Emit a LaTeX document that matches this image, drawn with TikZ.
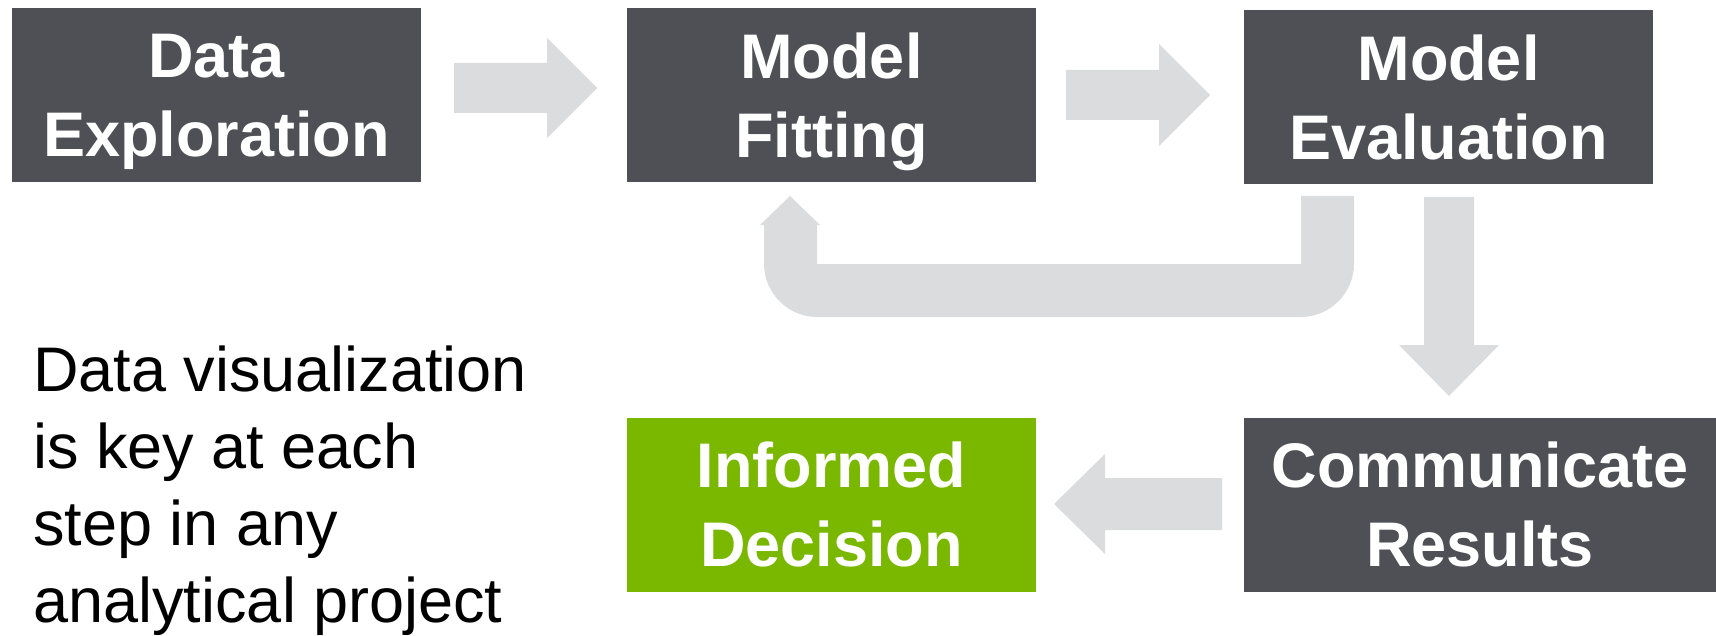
\documentclass[tikz,border=0pt]{standalone}
\usepackage{fontspec}
\setmainfont{Liberation Sans}

\definecolor{boxgray}{HTML}{4F5055}
\definecolor{arrowgray}{HTML}{DBDCDD}
\definecolor{decisiongreen}{HTML}{7AB800}

\tikzset{
  stage/.style={fill=boxgray, text=white, inner sep=0pt, align=center,
    minimum width=204.5pt, minimum height=87pt, text depth=0pt,
    font=\bfseries\fontsize{31.5}{39.5}\selectfont},
  flowarrow/.style={fill=arrowgray},
}

\begin{document}
\begin{tikzpicture}[x=0.5pt, y=-0.5pt]
		\useasboundingbox (0,0) rectangle (1716,636);

		\node[stage] (explore) at (216.5, 95.5) {Data\\Exploration};
		\node[stage] (fit) at (831.5, 95.5) {Model\\Fitting};
		\node[stage] (evaluate) at (1448.5, 97.5) {Model\\Evaluation};
		\node[stage, fill=decisiongreen] (decide) at (831.5, 504.5) {Informed\\Decision};
		\node[stage, minimum width=236pt] (report) at (1480, 504.5) {Communicate\\Results};

		% anchored at the baseline of the last line
		\node[inner sep=0pt, anchor=base west, align=left,
			font=\fontsize{31.5}{38.5}\selectfont] (note) at (33, 622)
			{Data visualization\\is key at each\\step in any\\analytical project};

		% explore -> fit
		\fill[flowarrow] (454, 63) -- (547, 63) -- (547, 38) -- (597, 88)
			-- (547, 138) -- (547, 113) -- (454, 113) -- cycle;
		% fit -> evaluate
		\fill[flowarrow] (1066, 70) -- (1159, 70) -- (1159, 44) -- (1210, 95)
			-- (1159, 146) -- (1159, 120) -- (1066, 120) -- cycle;
		% evaluate -> fit (loop back)
		\fill[flowarrow] (1301, 196) -- (1301, 264) -- (817, 264) -- (817, 225)
			-- (820, 225) -- (790, 196) -- (760, 225) -- (764, 225) -- (764, 264)
			.. controls (764, 293) and (788, 317) .. (817, 317) -- (1301, 317)
			.. controls (1330, 317) and (1354, 293) .. (1354, 264) -- (1354, 196) -- cycle;
		% evaluate -> report
		\fill[flowarrow] (1424, 197) -- (1474, 197) -- (1474, 345) -- (1499, 345)
			-- (1449, 396) -- (1399, 345) -- (1424, 345) -- cycle;
		% report -> decide
		\fill[flowarrow] (1222, 478) -- (1105, 478) -- (1105, 454) -- (1054, 504)
			-- (1105, 554) -- (1105, 530) -- (1222, 530) -- cycle;
	\end{tikzpicture}
\end{document}
